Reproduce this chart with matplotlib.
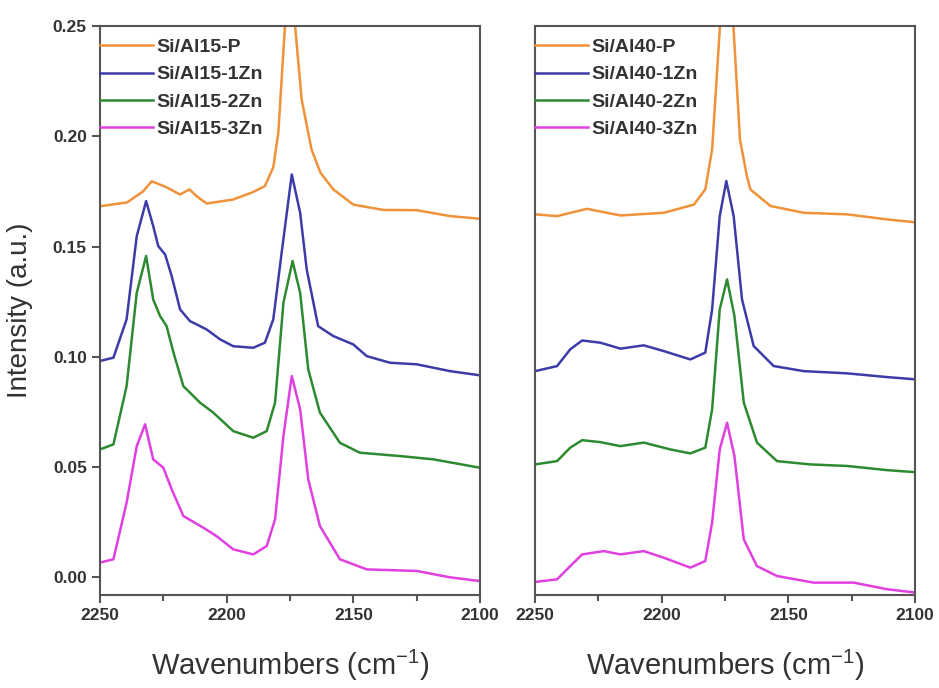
import numpy as np
import matplotlib
matplotlib.use("Agg")
import matplotlib.pyplot as plt
from matplotlib.ticker import MultipleLocator

plt.rcParams['font.family'] = ['Liberation Sans', 'DejaVu Sans']
plt.rcParams['mathtext.fontset'] = 'custom'
plt.rcParams['mathtext.rm'] = 'Liberation Sans'
plt.rcParams['mathtext.default'] = 'rm'

# ---- Si/Al15 panel ----
x15_p = [2250, 2239.3, 2233, 2229.6, 2224, 2218.4, 2214.7, 2211.5, 2207.9, 2197.5, 2190,
         2184.9, 2181.6, 2179.6, 2177, 2174, 2173, 2170.4, 2166.5, 2163, 2157.9, 2150,
         2138.2, 2125, 2111.8, 2100]
y15_p = [0.1683, 0.170, 0.175, 0.1796, 0.1770, 0.1736, 0.1759, 0.1725, 0.1695, 0.1713, 0.1745,
         0.1774, 0.186, 0.2017, 0.25, 0.32, 0.25, 0.2167, 0.194, 0.1835, 0.1759, 0.169,
         0.1666, 0.1665, 0.1638, 0.1626]

x15_1 = [2250, 2244.7, 2239.5, 2235.5, 2231.8, 2229, 2227, 2224.3, 2221.7, 2218.4, 2214.5,
         2207.9, 2202.6, 2197.4, 2189.5, 2184.9, 2181.6, 2178.3, 2174.3, 2171, 2168.4,
         2163.9, 2157.9, 2150, 2144.7, 2135.5, 2125, 2111.8, 2100]
y15_1 = [0.0981, 0.0996, 0.117, 0.1547, 0.1706, 0.1593, 0.1502, 0.1464, 0.1366, 0.1215, 0.1162,
         0.1124, 0.1079, 0.1048, 0.1041, 0.1064, 0.117, 0.1472, 0.1827, 0.1653, 0.1396,
         0.1139, 0.1094, 0.1056, 0.1003, 0.0973, 0.0966, 0.0935, 0.0916]

x15_2 = [2250, 2244.7, 2239.5, 2235.5, 2231.8, 2229, 2226.3, 2223.7, 2221, 2217.1, 2210.5,
         2205.3, 2197.4, 2189.5, 2184.2, 2180.9, 2177.6, 2174, 2171, 2167.8, 2163.2, 2155.3,
         2147.4, 2131.6, 2118.4, 2100]
y15_2 = [0.058, 0.0603, 0.0867, 0.129, 0.1457, 0.126, 0.1185, 0.1139, 0.1019, 0.0867, 0.0792,
         0.0747, 0.0663, 0.0633, 0.0663, 0.0792, 0.1245, 0.1434, 0.129, 0.0943, 0.0747, 0.061,
         0.0565, 0.055, 0.0535, 0.0497]

x15_3 = [2250, 2244.7, 2239.5, 2235.5, 2232.2, 2229, 2225, 2221.7, 2217.1, 2209.2, 2204,
         2197.4, 2189.5, 2184.2, 2180.9, 2177.6, 2174.3, 2171, 2167.8, 2163.2, 2155.3, 2144.7,
         2125, 2111.8, 2100]
y15_3 = [0.0067, 0.0082, 0.0339, 0.0595, 0.0694, 0.0535, 0.0497, 0.0399, 0.0278, 0.0225, 0.0187,
         0.0127, 0.0104, 0.0142, 0.0263, 0.0641, 0.0913, 0.0762, 0.0444, 0.0233, 0.0082, 0.0036,
         0.0029, 0.0, -0.0017]

# ---- Si/Al40 panel ----
x40_p = [2250, 2241.3, 2229.5, 2216.3, 2199.2, 2187.3, 2182.8, 2180.1, 2177, 2174.2, 2171.7,
         2169.1, 2166.4, 2165, 2157.1, 2143.9, 2126.8, 2111, 2100]
y40_p = [0.1646, 0.1638, 0.1671, 0.1641, 0.1653, 0.169, 0.1759, 0.194, 0.25, 0.33, 0.25,
         0.1985, 0.182, 0.1759, 0.1684, 0.1653, 0.1646, 0.1623, 0.161]

x40_1 = [2250, 2241.3, 2236.1, 2231.4, 2224.2, 2216.3, 2207.1, 2199.2, 2188.7, 2182.8, 2180.1,
         2177.1, 2174.5, 2171.6, 2168.3, 2163.7, 2155.8, 2143.9, 2126.8, 2111, 2100]
y40_1 = [0.0935, 0.0958, 0.1034, 0.1074, 0.1064, 0.1037, 0.1052, 0.1026, 0.0988, 0.1019, 0.1215,
         0.1638, 0.1797, 0.1638, 0.126, 0.1049, 0.0958, 0.0935, 0.0925, 0.0908, 0.0898]

x40_2 = [2250, 2241.3, 2236.1, 2231.4, 2224.2, 2216.3, 2207.1, 2196.6, 2188.7, 2182.8, 2180.1,
         2177.1, 2174.2, 2171.3, 2167.6, 2162.4, 2154.5, 2141.3, 2126.8, 2111, 2100]
y40_2 = [0.0512, 0.0527, 0.0588, 0.0622, 0.0613, 0.0595, 0.0611, 0.058, 0.0562, 0.0588, 0.0762,
         0.1215, 0.1351, 0.1185, 0.0792, 0.0611, 0.0527, 0.0512, 0.0505, 0.0486, 0.0477]

x40_3 = [2250, 2241.3, 2236.1, 2231.4, 2222.9, 2216.3, 2207.1, 2199.2, 2188.7, 2182.8, 2180.1,
         2177.1, 2174.2, 2171.3, 2167.6, 2162.4, 2154.5, 2140, 2124.2, 2111, 2100]
y40_3 = [-0.0021, -0.0009, 0.0051, 0.0104, 0.0119, 0.0104, 0.0119, 0.0089, 0.0044, 0.0074, 0.0248,
         0.058, 0.0701, 0.055, 0.0172, 0.0051, 0.0006, -0.0024, -0.0024, -0.0054, -0.0069]

colors = ['#F0923A', '#3C3CA8', '#2E8A30', '#E040E0']
labels15 = ['Si/Al15-P', 'Si/Al15-1Zn', 'Si/Al15-2Zn', 'Si/Al15-3Zn']
labels40 = ['Si/Al40-P', 'Si/Al40-1Zn', 'Si/Al40-2Zn', 'Si/Al40-3Zn']

fig = plt.figure(figsize=(9.39, 6.88), dpi=100)
ax1 = fig.add_axes([0.1065, 0.1352, 0.4047, 0.827])
ax2 = fig.add_axes([0.5698, 0.1352, 0.4047, 0.827])

panels = [
    (ax1, [(x15_p, y15_p), (x15_1, y15_1), (x15_2, y15_2), (x15_3, y15_3)], labels15),
    (ax2, [(x40_p, y40_p), (x40_1, y40_1), (x40_2, y40_2), (x40_3, y40_3)], labels40),
]

for ax, series, labels in panels:
    for (xs, ys), c, lab in zip(series, colors, labels):
        ax.plot(xs, ys, color=c, lw=1.8, label=lab)
    ax.set_xlim(2250, 2100)
    ax.set_ylim(-0.008, 0.25)
    ax.xaxis.set_major_locator(MultipleLocator(50))
    ax.xaxis.set_minor_locator(MultipleLocator(25))
    ax.yaxis.set_major_locator(MultipleLocator(0.05))
    for s in ax.spines.values():
        s.set_color('#555555')
        s.set_linewidth(1.5)
    ax.tick_params(axis='both', which='major', direction='out', length=6, width=1.5,
                   color='#555555', labelsize=12.5, labelcolor='#333333')
    ax.tick_params(axis='x', which='minor', direction='out', length=4, width=1.5, color='#555555')
    for t in ax.get_xticklabels() + ax.get_yticklabels():
        t.set_fontweight('bold')
    ax.set_xlabel('Wavenumbers (cm$^{-1}$)', fontsize=21, color='#333333', labelpad=18)
    leg = ax.legend(loc='upper left', bbox_to_anchor=(-0.01, 0.985), frameon=False,
                    handlelength=2.7, handletextpad=0.2, labelspacing=0.5,
                    borderaxespad=0.0, borderpad=0.2,
                    prop={'size': 14, 'weight': 'bold'})
    for txt in leg.get_texts():
        txt.set_color('#333333')

ax1.yaxis.set_major_formatter(matplotlib.ticker.FormatStrFormatter('%.2f'))
ax1.set_ylabel('Intensity (a.u.)', fontsize=20, color='#333333', labelpad=14)
ax2.tick_params(axis='y', left=False, labelleft=False)

fig.savefig('out.png', dpi=100)
